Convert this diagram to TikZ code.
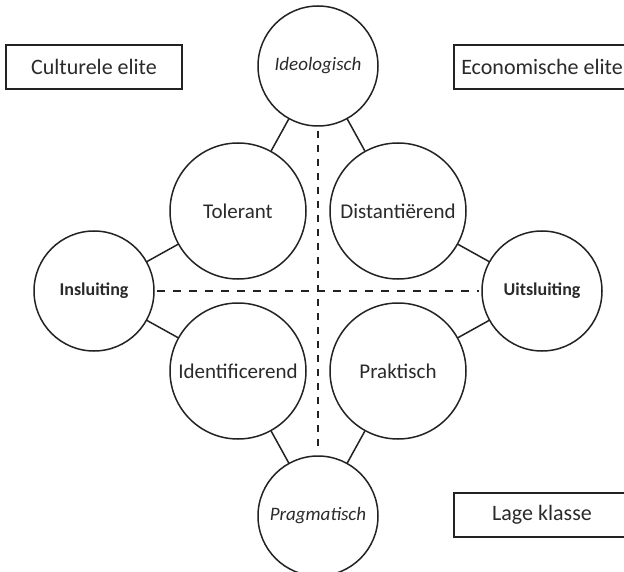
\documentclass[tikz,border=0pt]{standalone}
\usepackage{fontspec}
\setmainfont{Carlito}
\definecolor{ink}{HTML}{222222}
\definecolor{txt}{HTML}{2A2A2A}
\begin{document}
\begin{tikzpicture}[x=1pt,y=-1pt,
  big/.style={circle,draw=ink,line width=1.5pt,minimum size=136pt,inner sep=0pt,text=txt,font=\fontsize{21}{25}\selectfont},
  small/.style={circle,draw=ink,line width=1.5pt,minimum size=120pt,inner sep=0pt,text=txt},
  pole/.style={small,font=\fontsize{18}{22}\selectfont\bfseries},
  axis/.style={small,font=\fontsize{19}{23}\selectfont\itshape},
  classbox/.style={rectangle,draw=ink,line width=1.3pt,minimum width=176pt,minimum height=44pt,inner sep=0pt,text=txt,font=\fontsize{22}{26}\selectfont},
  link/.style={draw=ink,line width=1.5pt},
  divide/.style={draw=ink,line width=1.5pt,dash pattern=on 8pt off 8pt}]
\useasboundingbox (0,0) rectangle (624,572);
\fill[white] (0,0) rectangle (624,572);
% nodes
\node[axis] (ideo) at (318,66) {Ideologisch};
\node[axis] (prag) at (318,516) {Pragmatisch};
\node[pole] (ins) at (94,291) {Insluiting};
\node[pole] (uit) at (542,291) {Uitsluiting};
\node[big] (tol) at (238,211) {Tolerant};
\node[big] (dist) at (398,211) {Distantiërend};
\node[big] (ident) at (238,371) {Identificerend};
\node[big] (prak) at (398,371) {Praktisch};
\node[classbox] (cult) at (94,67) {Culturele elite};
\node[classbox] (econ) at (542,67) {Economische elite};
\node[classbox] (lage) at (542,515) {Lage klasse};
% connectors
\draw[link] (ideo) -- (tol);
\draw[link] (ideo) -- (dist);
\draw[link] (ins) -- (tol);
\draw[link] (ins) -- (ident);
\draw[link] (uit) -- (dist);
\draw[link] (uit) -- (prak);
\draw[link] (prag) -- (ident);
\draw[link] (prag) -- (prak);
% axes
\draw[divide,dash pattern=on 7pt off 7pt,shorten <=4pt,shorten >=8pt] (ideo.south) -- (prag.north);
\draw[divide,shorten <=2pt,shorten >=2pt] (ins.east) -- (uit.west);
\end{tikzpicture}
\end{document}
